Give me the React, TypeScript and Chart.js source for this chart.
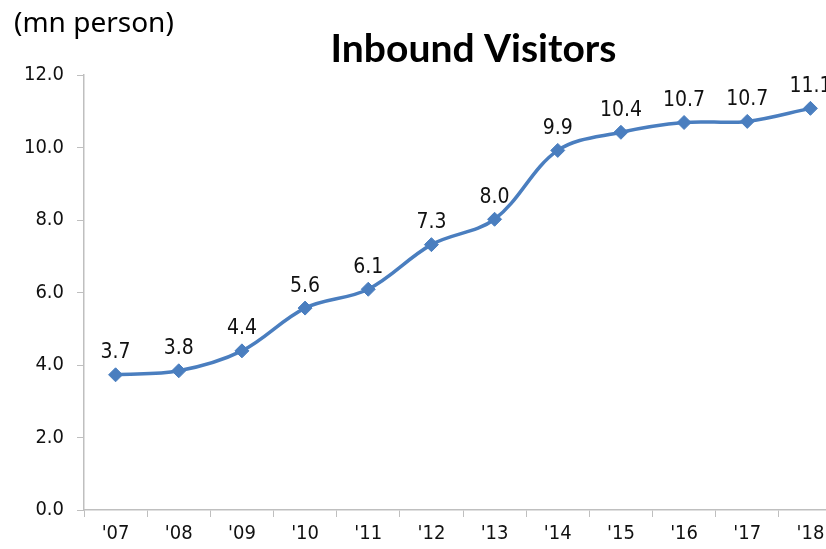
import React, { useEffect, useRef } from "react";
import { Chart, registerables } from "chart.js";

Chart.register(...registerables);

const categories = ["'07", "'08", "'09", "'10", "'11", "'12", "'13", "'14", "'15", "'16", "'17", "'18"];
const visitors = [3.73, 3.84, 4.39, 5.57, 6.09, 7.32, 8.02, 9.92, 10.42, 10.69, 10.72, 11.08];
const yTicks = [0, 2, 4, 6, 8, 10, 12];

const TITLE = "Inbound Visitors";
const UNIT = "(mn person)";
const LINE_COLOR = "#4A7EBF";
const TICK_FONT = "'DejaVu Sans Condensed', 'DejaVu Sans', sans-serif";

const overlayPlugin = {
  id: "overlay",
  afterDatasetsDraw(chart: any) {
    const ctx = chart.ctx;
    const meta = chart.getDatasetMeta(0);
    ctx.save();
    ctx.fillStyle = "#111";
    ctx.font = `21px ${TICK_FONT}`;
    ctx.textAlign = "center";
    ctx.textBaseline = "middle";
    meta.data.forEach((pt: any, i: number) => {
      ctx.fillText(visitors[i].toFixed(1), pt.x, pt.y - 22);
    });
    ctx.fillStyle = "#000";
    ctx.textBaseline = "alphabetic";
    ctx.font = `bold 39px Lato, 'Noto Sans', sans-serif`;
    ctx.textAlign = "center";
    ctx.fillText(TITLE, 473.5, 62, 297);
    ctx.font = `28px 'Noto Sans', 'Open Sans', sans-serif`;
    ctx.textAlign = "left";
    ctx.fillText(UNIT, 14, 32, 167);
    ctx.restore();
  },
};

export default function App() {
  const ref = useRef<HTMLCanvasElement | null>(null);
  useEffect(() => {
    if (!ref.current) return;
    const chart = new Chart(ref.current, {
      type: "line",
      data: {
        labels: categories,
        datasets: [
          {
            data: visitors,
            borderColor: LINE_COLOR,
            backgroundColor: LINE_COLOR,
            borderWidth: 3.5,
            tension: 0.35,
            pointStyle: "rectRot",
            pointRadius: 7,
            pointHoverRadius: 7,
            pointBackgroundColor: LINE_COLOR,
            pointBorderColor: LINE_COLOR,
            pointBorderWidth: 1,
          },
        ],
      },
      options: {
        animation: false,
        responsive: false,
        maintainAspectRatio: false,
        events: [],
        layout: { padding: { top: 75, right: 6, left: 0, bottom: 0 } },
        plugins: { legend: { display: false }, title: { display: false }, tooltip: { enabled: false } },
        scales: {
          x: {
            offset: true,
            grid: { offset: true, drawOnChartArea: false, drawTicks: true, tickLength: 7, color: "#BFBFBF" },
            border: { display: true, color: "#BFBFBF", width: 1.5 },
            ticks: { color: "#111", font: { family: TICK_FONT, size: 20 }, padding: 5, maxRotation: 0, autoSkip: false },
            afterFit(scale: any) {
              scale.height = 39;
            },
          },
          y: {
            min: 0,
            max: 12,
            afterBuildTicks(scale: any) {
              scale.ticks = yTicks.map((v) => ({ value: v }));
            },
            grid: { drawOnChartArea: false, drawTicks: true, tickLength: 7, color: "#BFBFBF" },
            border: { display: true, color: "#BFBFBF", width: 1.5 },
            ticks: {
              color: "#111",
              font: { family: TICK_FONT, size: 20 },
              padding: 13,
              callback: (v: any) => Number(v).toFixed(1),
            },
            afterFit(scale: any) {
              scale.width = 84;
            },
          },
        },
      },
      plugins: [overlayPlugin],
    });
    return () => chart.destroy();
  }, []);
  return (
    <div style={{ position: "fixed", left: 0, top: 0, width: 826, height: 549, overflow: "hidden", background: "#fff" }}>
      <canvas ref={ref} width={850} height={549} style={{ display: "block", width: 850, height: 549 }} />
    </div>
  );
}
